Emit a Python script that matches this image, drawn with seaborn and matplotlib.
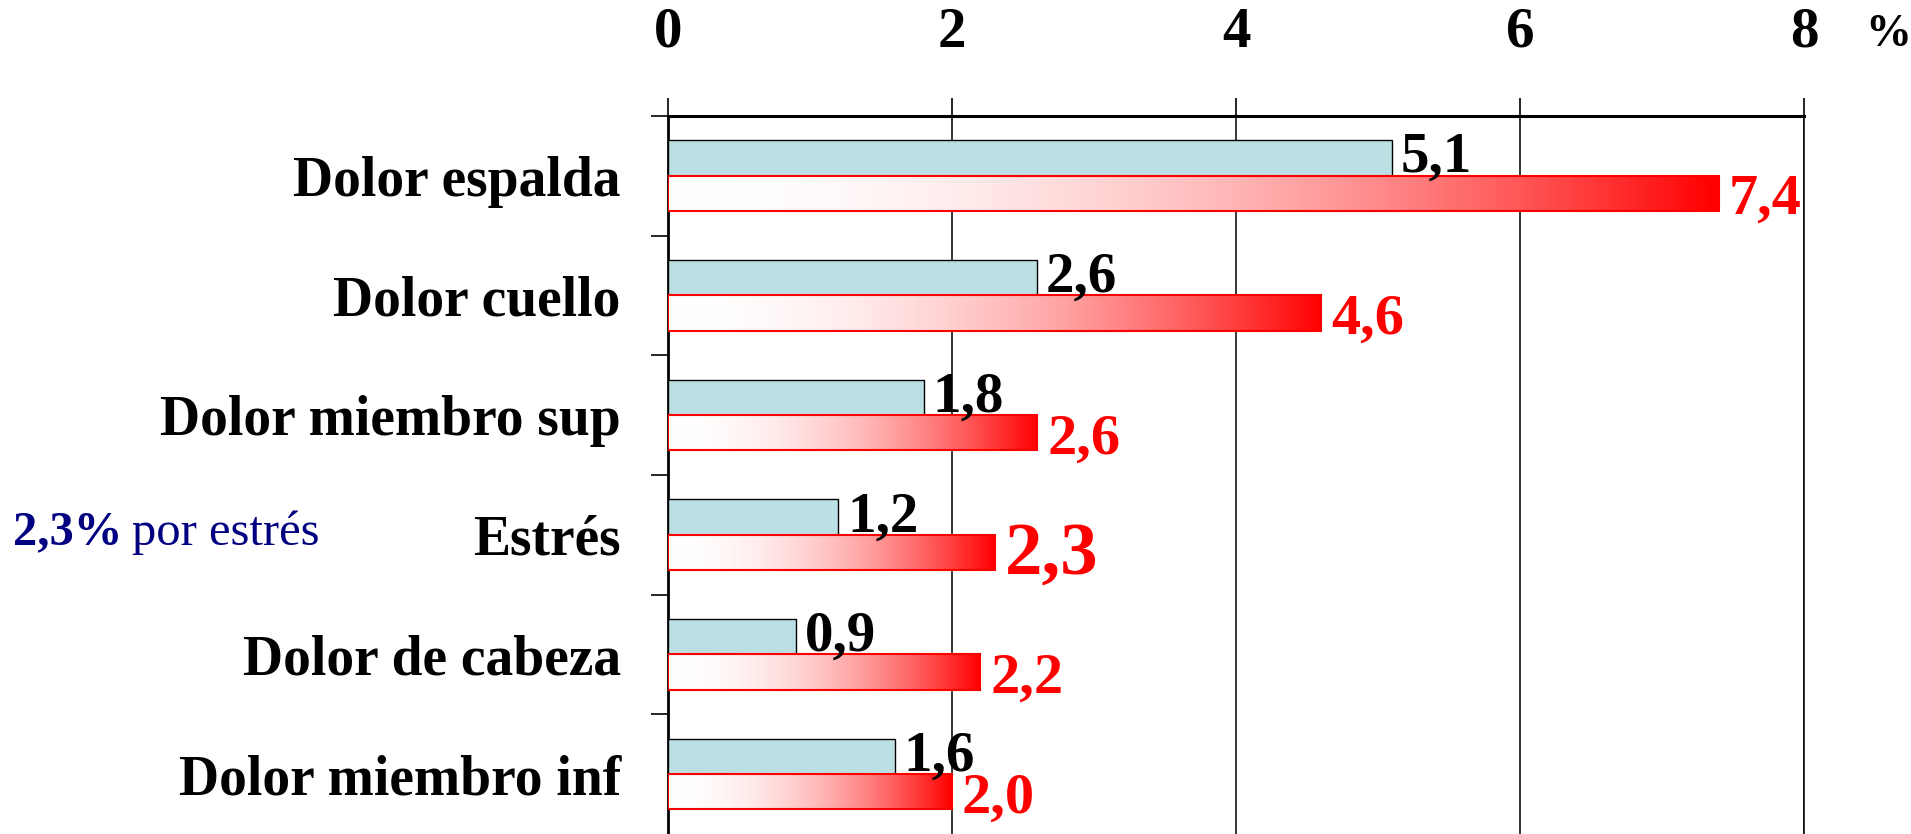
import matplotlib
matplotlib.use("Agg")
import matplotlib.pyplot as plt
import numpy as np
import pandas as pd
import seaborn as sns
from matplotlib.colors import LinearSegmentedColormap

# ─── Datos ────────────────────────────────────────────────────────────────────
categorias = ["Dolor espalda", "Dolor cuello", "Dolor miembro sup",
              "Estrés", "Dolor de cabeza", "Dolor miembro inf"]
serie_a = [5.1, 2.6, 1.8, 1.2, 0.9, 1.6]
serie_b = [7.4, 4.6, 2.6, 2.3, 2.2, 2.0]
series = ["serie_a", "serie_b"]
ticks_x = [0, 2, 4, 6, 8]

CYAN = "#BAE0E3"
ROJO = "#FF0000"
NAVY = "#000080"

df = pd.DataFrame({
    "causa": categorias * 2,
    "valor": serie_a + serie_b,
    "serie": [series[0]] * len(categorias) + [series[1]] * len(categorias),
})

sns.set_theme(style="white")
plt.rcParams["font.family"] = ["Liberation Serif", "DejaVu Serif"]

fig = plt.figure(figsize=(19.11, 8.34), dpi=100)
ax = fig.add_axes([0.3496, 0.0, 0.5944, 0.861])

sns.barplot(data=df, y="causa", x="valor", hue="serie", order=categorias,
            hue_order=series, palette=[CYAN, "white"], orient="h",
            width=0.59, errorbar=None, saturation=1, legend=False, ax=ax)

# barras celestes con borde negro
for p in ax.containers[0]:
    p.set_edgecolor("black")
    p.set_linewidth(1.0)
    p.set_zorder(3)

# barras rojas con degradado blanco -> rojo
t = np.linspace(0, 1, 256)
grad_cols = [(1.0, 1 - x ** 2, 1 - x ** 2) for x in t]
cmap_grad = LinearSegmentedColormap.from_list("grad", grad_cols)
for p in ax.containers[1]:
    x0, y0, w, h = p.get_x(), p.get_y(), p.get_width(), p.get_height()
    ax.imshow(t[None, :], cmap=cmap_grad, aspect="auto",
              extent=(x0, x0 + w, y0 + h, y0), zorder=3, interpolation="bilinear")
    p.set_facecolor("none")
    p.set_edgecolor(ROJO)
    p.set_linewidth(1.5)
    p.set_zorder(4)

ax.set_xlim(0, 8)
ax.set_ylim(5.5, -0.5)
ax.set_xlabel("")
ax.set_ylabel("")

# eje x arriba
ax.xaxis.tick_top()
ax.set_xticks(ticks_x)
ax.set_xticklabels([str(v) for v in ticks_x], fontweight="bold")
ax.tick_params(axis="x", direction="out", length=13, width=1.2, pad=28,
               labelsize=41, colors="black", bottom=False, top=True)
ax.xaxis.grid(True, color="black", linewidth=1.1)
ax.set_axisbelow(True)

# eje y: separadores de categoría
ax.set_yticks(range(len(categorias)))
ax.set_yticklabels(categorias, fontweight="bold")
ax.set_yticks(np.arange(-0.5, len(categorias) - 1, 1.0), minor=True)
ax.tick_params(axis="y", which="major", length=0, pad=34, labelsize=40, colors="black")
ax.tick_params(axis="y", which="minor", left=True, direction="out",
               length=12, width=1.2, color="black")

ax.spines["top"].set_linewidth(2.2)
ax.spines["left"].set_linewidth(2.0)
ax.spines["right"].set_linewidth(1.1)
ax.spines["bottom"].set_visible(False)
for s in ("top", "left", "right"):
    ax.spines[s].set_color("black")

# etiquetas de valor
fmt = lambda v: f"{v:.1f}".replace(".", ",")
for i, v in enumerate(serie_a):
    ax.text(v + 0.06, i - 0.03, fmt(v), ha="left", va="baseline",
            fontsize=41, fontweight="bold", color="black", zorder=6)
for i, v in enumerate(serie_b):
    size = 54 if categorias[i] == "Estrés" else 42
    ax.text(v + 0.07, i + 0.32, fmt(v), ha="left", va="baseline",
            fontsize=size, fontweight="bold", color=ROJO, zorder=6)

fig.text(0.976, 0.945, "%", fontsize=33, fontweight="bold", color="black",
         ha="left", va="baseline")

# nota lateral
t1 = fig.text(0.007, 0.347, "2,3%", fontsize=35, fontweight="bold",
              color=NAVY, ha="left", va="baseline")
fig.canvas.draw()
bb = t1.get_window_extent(renderer=fig.canvas.get_renderer())
fig.text((bb.x1 + 9) / fig.bbox.width, 0.347, "por estrés", fontsize=35,
         color=NAVY, ha="left", va="baseline")

fig.savefig("out.png", dpi=100)
